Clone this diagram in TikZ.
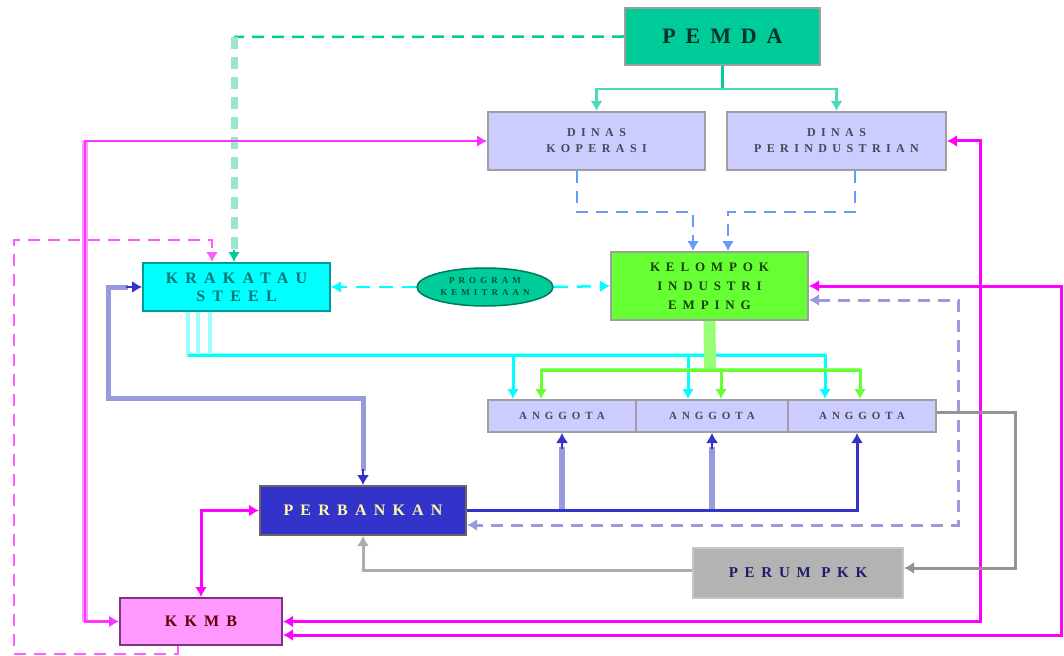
\documentclass[tikz,border=0pt]{standalone}
\usepackage{fontspec}
\usepackage{tikz}
\usetikzlibrary{
    arrows.meta,
    shapes.geometric,
    calc,
    positioning
}
\newfontfamily\boxfont[LetterSpace=45]{Liberation Serif}
\definecolor{pemdagreen}{HTML}{00CC99}
\definecolor{paleteal}{HTML}{99E6CC}
\definecolor{lavender}{HTML}{CCCCFF}
\definecolor{steelcyan}{HTML}{00FFFF}
\definecolor{steeledge}{HTML}{009999}
\definecolor{emping}{HTML}{66FF33}
\definecolor{bankblue}{HTML}{3333CC}
\definecolor{kkmbpink}{HTML}{FF99FF}
\definecolor{perumgray}{HTML}{B3B3B3}
\definecolor{magline}{HTML}{FF33FF}
\definecolor{brightmag}{HTML}{FF00FF}
\definecolor{dashblue}{HTML}{6699FF}
\definecolor{lavline}{HTML}{9999DD}
\definecolor{palecyan}{HTML}{99FFFF}
\definecolor{palegreen}{HTML}{99FF77}
\tikzset{
    box/.style={draw=gray!75, line width=2pt, inner sep=0pt, align=center},
    dashline/.style={dash pattern=on 12pt off 8pt},
    >={Latex[length=10pt,width=12pt]}
}

\begin{document}
\begin{tikzpicture}[x=1pt, y=-1pt]
    \useasboundingbox (0, 0) rectangle (1064, 655);

    \node[box, fill=pemdagreen, minimum width=195pt, minimum height=57pt,
        font=\boxfont\bfseries\fontsize{22}{26}\selectfont, text=black!75!pemdagreen] (pemda) at (722.5, 36.5) {PEMDA};
    \node[box, fill=lavender, minimum width=217pt, minimum height=58pt,
        font=\boxfont\bfseries\fontsize{12}{16}\selectfont, text=black!65!lavender] (dinaskop) at (596.5, 141) {DINAS\\KOPERASI};
    \node[box, fill=lavender, minimum width=219pt, minimum height=58pt,
        font=\boxfont\bfseries\fontsize{12}{16}\selectfont, text=black!65!lavender] (dinasind) at (836.5, 141) {DINAS\\PERINDUSTRIAN};
    \node[box, fill=emping, minimum width=197pt, minimum height=68pt,
        font=\boxfont\bfseries\fontsize{13}{19}\selectfont, text=black!75!emping] (kelompok) at (709.5, 286) {KELOMPOK\\INDUSTRI\\EMPING};
    \node[box, draw=steeledge, fill=steelcyan, minimum width=187pt, minimum height=48pt,
        font=\boxfont\bfseries\fontsize{16}{18}\selectfont, text=black!55!steelcyan] (krakatau) at (236.5, 287) {KRAKATAU\\STEEL};
    \node[ellipse, draw=pemdagreen!60!black, line width=1.5pt, fill=pemdagreen, inner sep=0pt,
        minimum width=136pt, minimum height=38pt, align=center,
        font=\boxfont\bfseries\fontsize{9}{12}\selectfont, text=black!60!pemdagreen] (mitra) at (485, 287) {PROGRAM\\KEMITRAAN};

    \node[box, fill=lavender, minimum width=148pt, minimum height=32pt,
        font=\boxfont\bfseries\fontsize{11}{13}\selectfont, text=black!65!lavender] (anggota1) at (562, 416) {ANGGOTA};
    \node[box, fill=lavender, minimum width=152pt, minimum height=32pt,
        font=\boxfont\bfseries\fontsize{11}{13}\selectfont, text=black!65!lavender] (anggota2) at (712, 416) {ANGGOTA};
    \node[box, fill=lavender, minimum width=148pt, minimum height=32pt,
        font=\boxfont\bfseries\fontsize{11}{13}\selectfont, text=black!65!lavender] (anggota3) at (862, 416) {ANGGOTA};

    \node[box, draw=gray!80!black, fill=bankblue, minimum width=206pt, minimum height=49pt,
        font=\boxfont\bfseries\fontsize{16}{18}\selectfont, text=yellow!35!white] (perbankan) at (363, 510.5) {PERBANKAN};
    \node[box, draw=gray!45, fill=perumgray, minimum width=210pt, minimum height=50pt,
        font=\boxfont\bfseries\fontsize{15}{18}\selectfont, text=bankblue!55!black] (perum) at (798, 573) {PERUM PKK};
    \node[box, draw=violet!60!gray, fill=kkmbpink, minimum width=162pt, minimum height=47pt,
        font=\boxfont\bfseries\fontsize{16}{18}\selectfont, text=red!40!black] (kkmb) at (201, 621.5) {KKMB};

    % pemda to dinas
    \draw[pemdagreen, line width=2.5pt] (pemda.south) -- ++(0, 23) coordinate (pemdabus);
    \draw[pemdagreen!70, line width=2.5pt, ->] (pemdabus) -| (dinaskop.north);
    \draw[pemdagreen!70, line width=2.5pt, ->] (pemdabus) -| (dinasind.north);

    % dinas to kelompok
    \draw[dashblue, line width=2.5pt, dashline, ->] ([xshift=-19.5pt]dinaskop.south) -- ++(0, 41) -| ([xshift=-16.5pt]kelompok.north);
    \draw[dashblue, line width=2.5pt, dashline, ->] ([xshift=18.5pt]dinasind.south) -- ++(0, 41) -| ([xshift=18.5pt]kelompok.north);

    % pemda to krakatau
    \coordinate (pemdacorner) at (234, 37);
    \draw[pemdagreen, line width=2.5pt, dashline] (pemda.west) -- (pemdacorner);
    \draw[paleteal, line width=7pt, dashline] (pemdacorner) -- ([xshift=-2.5pt, yshift=10pt]krakatau.north);
    \draw[pemdagreen, line width=2pt, ->] ([xshift=-2.5pt, yshift=12pt]krakatau.north) -- ([xshift=-2.5pt]krakatau.north);

    % kkmb to krakatau
    \draw[magline!80, line width=2.5pt, dashline, ->]
        ([xshift=-23pt]kkmb.south) -- ++(0, 8) -| (14, 240) -| ([xshift=-24.5pt]krakatau.north);

    % mitra
    \draw[steelcyan, line width=2.5pt, dash pattern=on 14pt off 9pt, ->] (mitra.west) -- (krakatau.east);
    \draw[steelcyan, line width=2.5pt, dash pattern=on 14pt off 9pt, ->] (mitra.east) -- (kelompok.west);

    % kkmb links
    \draw[kkmbpink, line width=6pt] (85, 141) -- (85, 621.5);
    \draw[magline, line width=2.5pt, <->] (kkmb.west) -| (85, 141) -- (dinaskop.west);
    \draw[brightmag, line width=3pt, <->] (kkmb.east) -| (980, 141) -- (dinasind.east);
    \draw[brightmag, line width=3pt, <->] ([yshift=-13.5pt]kkmb.east) -| (1061, 286) -- (kelompok.east);
    \draw[brightmag, line width=3pt, <->] (kkmb.north) |- (perbankan.west);

    % krakatau to perbankan
    \draw[lavline, line width=5pt] ([xshift=-14pt]krakatau.west) -| (108, 398) -| ([yshift=14pt]perbankan.north);
    \draw[bankblue, line width=1.5pt, ->] ([xshift=-16pt]krakatau.west) -- (krakatau.west);
    \draw[bankblue, line width=1.5pt, ->] ([yshift=16pt]perbankan.north) -- (perbankan.north);

    % krakatau to anggota
    \coordinate (ksbus) at (188, 355);
    \draw[palecyan, line width=4pt] ([xshift=-48.5pt]krakatau.south) -- (ksbus) -- (825, 355);
    \draw[palecyan, line width=4pt] ([xshift=-38.5pt]krakatau.south) -- ++(0, 44);
    \draw[palecyan, line width=4pt] ([xshift=-26.5pt]krakatau.south) -- ++(0, 44);
    \draw[steelcyan, line width=3pt, ->] (ksbus) -| ([xshift=-49pt]anggota1.north);
    \draw[steelcyan, line width=3pt, ->] (ksbus) -| ([xshift=-24pt]anggota2.north);
    \draw[steelcyan, line width=3pt, ->] (ksbus) -| ([xshift=-37pt]anggota3.north);

    % kelompok to anggota
    \coordinate (kibus) at (710, 370);
    \draw[palegreen, line width=12pt] (kelompok.south) -- (kibus);
    \draw[palegreen, line width=4pt] ([xshift=-169pt]kibus) -- ([xshift=150pt]kibus);
    \draw[emping, line width=3pt, ->] (kibus) -| ([xshift=-21pt]anggota1.north);
    \draw[emping, line width=3pt, ->] (kibus) -| ([xshift=9pt]anggota2.north);
    \draw[emping, line width=3pt, ->] (kibus) -| ([xshift=-2pt]anggota3.north);

    % perbankan to anggota
    \draw[lavline, line width=6pt] (anggota1.south |- perbankan.east) -- ([yshift=-14pt]anggota1.south);
    \draw[lavline, line width=6pt] (anggota2.south |- perbankan.east) -- ([yshift=-14pt]anggota2.south);
    \draw[bankblue, line width=3pt, ->] (perbankan.east) -| ([xshift=-5pt]anggota3.south);
    \draw[bankblue, line width=1.5pt, ->] ([yshift=-16pt]anggota1.south) -- (anggota1.south);
    \draw[bankblue, line width=1.5pt, ->] ([yshift=-16pt]anggota2.south) -- (anggota2.south);

    % kelompok to perbankan
    \draw[lavline, line width=3pt, dashline, <->]
        ([yshift=-14pt]kelompok.east) -| (958, 525) -- ([yshift=-14.5pt]perbankan.east);

    % perum
    \draw[gray!85, line width=3pt, ->] ([yshift=4pt]anggota3.east) -| (1015, 568) -- ([yshift=5pt]perum.east);
    \draw[gray!65, line width=3pt, ->] ([yshift=3pt]perum.west) -| (perbankan.south);
\end{tikzpicture}
\end{document}
